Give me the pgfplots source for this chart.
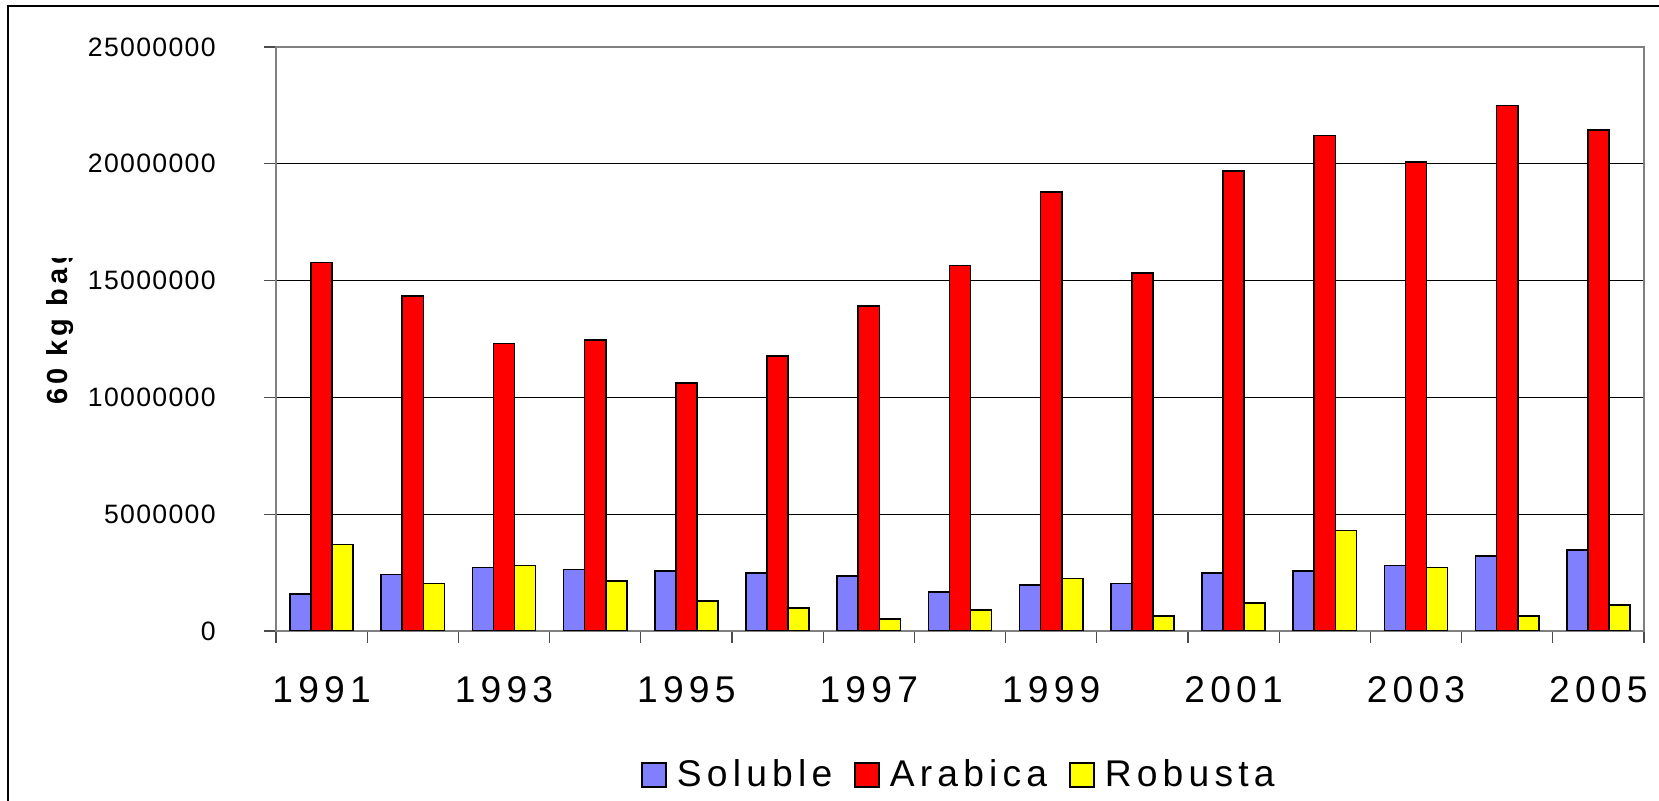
\documentclass[border=0pt]{standalone}
\usepackage{fontspec}
\setmainfont{Liberation Sans}
\newfontfamily\spaced{Liberation Sans}[LetterSpace=14]
\newfontfamily\yspaced{Liberation Sans}[LetterSpace=5]
\usepackage{pgfplots}
\pgfplotsset{compat=1.18}
\definecolor{sol}{HTML}{8080FF}
\definecolor{ara}{HTML}{FF0000}
\definecolor{rob}{HTML}{FFFF00}
\begin{document}
\begin{tikzpicture}
\begin{axis}[
  at={(138pt,85pt)}, anchor=south west,
  scale only axis, width=684pt, height=292pt,
  xmin=-0.5, xmax=14.5, ymin=0, ymax=25000000,
  ybar=0pt, bar width=0.231,
  scaled y ticks=false,
  axis line style={draw=black!50, line width=0.75pt},
  ytick={0,5000000,10000000,15000000,20000000,25000000},
  yticklabels={0,5000000,10000000,15000000,20000000,25000000},
  ymajorgrids, grid style={black, line width=0.5pt},
  xtick={-0.5,0.5,...,14.5}, xticklabels={},
  extra x ticks={0,2,4,6,8,10,12,14},
  extra x tick labels={1991,1993,1995,1997,1999,2001,2003,2005},
  extra x tick style={major tick length=0pt, grid=none},
  tick align=outside, tick pos=left, major tick length=6pt,
  tick style={draw=black!70, line width=0.6pt},
  /pgf/number format/assume math mode=true,
  yticklabel style={font=\yspaced\fontsize{13.3}{16}\selectfont, anchor=east, inner sep=0pt, xshift=-24pt},
  xticklabel style={font=\spaced\fontsize{18.6}{22}\selectfont, anchor=north, inner sep=0pt, yshift=-22.5pt},
  legend style={draw=none, fill=none, at={(0.4985,-0.2466)}, anchor=center, legend columns=-1,
    font=\spaced\fontsize{18.6}{22}\selectfont,
    /tikz/every odd column/.append style={column sep=5pt},
    /tikz/every even column/.append style={column sep=11pt},
    nodes={inner sep=0pt}},
  legend image code/.code={\draw[#1, line width=0.8pt] (0pt,-6pt) rectangle (12pt,6pt);},
]
\addplot[fill=sol, draw=black, line width=0.8pt] coordinates {
(0,1590000) (1,2420000) (2,2710000) (3,2640000) (4,2560000) (5,2490000) (6,2350000) (7,1660000)
(8,1960000) (9,2040000) (10,2490000) (11,2560000) (12,2810000) (13,3200000) (14,3470000)};
\addplot[fill=ara, draw=black, line width=0.8pt] coordinates {
(0,15780000) (1,14350000) (2,12310000) (3,12450000) (4,10610000) (5,11770000) (6,13920000) (7,15650000)
(8,18780000) (9,15320000) (10,19700000) (11,21210000) (12,20070000) (13,22490000) (14,21450000)};
\addplot[fill=rob, draw=black, line width=0.8pt] coordinates {
(0,3710000) (1,2040000) (2,2810000) (3,2130000) (4,1280000) (5,980000) (6,520000) (7,890000)
(8,2250000) (9,650000) (10,1200000) (11,4300000) (12,2710000) (13,650000) (14,1100000)};
\legend{Soluble,Arabica,Robusta}
\end{axis}
\begin{scope}
\clip (0pt,0pt) rectangle (100pt,271pt);
\node[rotate=90, anchor=base west, inner sep=0pt, font=\spaced\bfseries\fontsize{14.5}{17}\selectfont] at (33.5pt,198pt) {60 kg bags};
\end{scope}
\draw[line width=1.25pt] (4pt,-10pt) -- (4pt,397.5pt) -- (840pt,397.5pt);
\pgfresetboundingbox
\useasboundingbox (0pt,0pt) rectangle (829.5pt,400.5pt);
\end{tikzpicture}
\end{document}
